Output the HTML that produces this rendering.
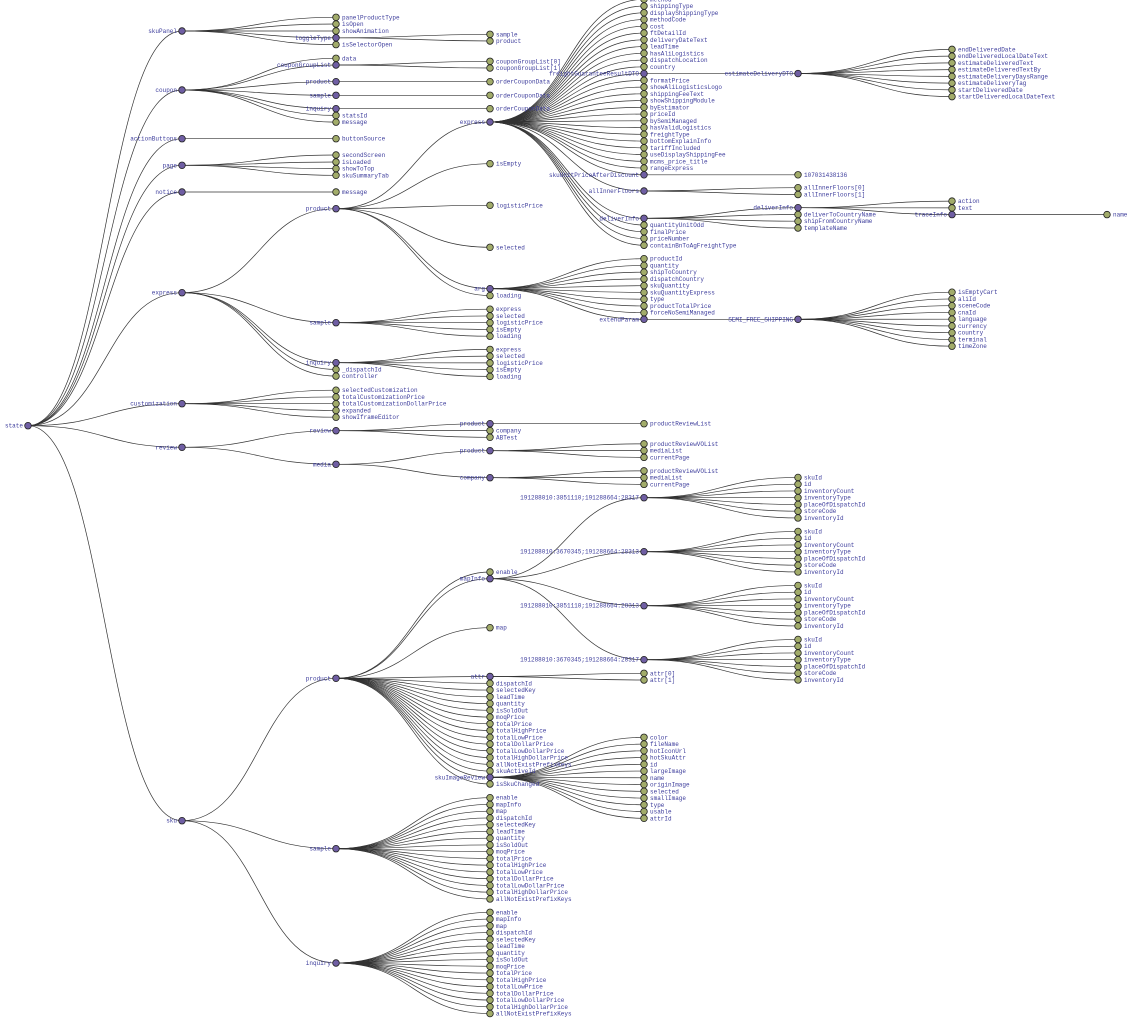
<!DOCTYPE html>
<html><head><meta charset="utf-8"><style>
html,body{margin:0;padding:0;background:#fff;width:1132px;height:1031px;overflow:hidden}
svg text{font-family:"Liberation Mono",monospace;font-size:6px;fill:#3b3b9b}
</style></head><body>
<svg id="s" width="1132" height="1031" xmlns="http://www.w3.org/2000/svg"></svg>
<script>
const X=[28,182,336,490,644,798,952,1107];
const U=6.75;
function N(name,y,ch){return {n:name,y:y,c:ch||[]};}
function L(y0,names){return names.map((n,i)=>N(n,y0+i*U));}
function C(y,names){const y0=y-(names.length-1)/2*U;return L(y0,names);}
const inv=['skuId','id','inventoryCount','inventoryType','placeOfDispatchId','storeCode','inventoryId'];
const skuF=['enable','mapInfo','map','dispatchId','selectedKey','leadTime','quantity','isSoldOut','moqPrice','totalPrice','totalHighPrice','totalLowPrice','totalDollarPrice','totalLowDollarPrice','totalHighDollarPrice','allNotExistPrefixKeys'];
const expA=['method','shippingType','displayShippingType','methodCode','cost','ftDetailId','deliveryDateText','leadTime','hasAliLogistics','dispatchLocation','country'];
const expB=['formatPrice','showAliLogisticsLogo','shippingFeeText','showShippingModule','byEstimator','priceId','bySemiManaged','hasValidLogistics','freightType','bottomExplainInfo','tariffIncluded','useDisplayShippingFee','mcms_price_title','rangeExpress'];
const y0e=-0.7;
const expressCh=[...L(y0e,expA),
 N('freightGuaranteeResultDTO',y0e+11*U,[N('estimateDeliveryDTO',y0e+11*U,C(73,['endDeliveredDate','endDeliveredLocalDateText','estimateDeliveredText','estimateDeliveredTextBy','estimateDeliveryDaysRange','estimateDeliveryTag','startDeliveredDate','startDeliveredLocalDateText']))]),
 ...L(y0e+12*U,expB),
 N('skuUnitPriceAfterDiscount',y0e+26*U,[N('107031438136',y0e+26*U)]),
 N('allInnerFloors',191,[N('allInnerFloors[0]',187.7),N('allInnerFloors[1]',194.5)]),
 N('deliverInfo',218.3,[N('deliverInfo',207.7,[N('action',201.1),N('text',207.9),N('traceInfo',214.6,[N('name',214.6)])]),N('deliverToCountryName',214.5),N('shipFromCountryName',221.2),N('templateName',228)]),
 ...L(225,['quantityUnitOdd','finalPrice','priceNumber','containBnToAgFreightType'])];
const tree=N('state',425.7,[
 N('skuPanel',31,[N('panelProductType',17.3),N('isOpen',24),N('showAnimation',31),N('toggleType',37.8,[N('sample',34.3),N('product',41)]),N('isSelectorOpen',44.6)]),
 N('coupon',90,[N('data',58.3),N('couponGroupList',65,[N('couponGroupList[0]',61.3),N('couponGroupList[1]',68)]),N('product',81.7,[N('orderCouponData',81.7)]),N('sample',95.3,[N('orderCouponData',95.3)]),N('inquiry',108.7,[N('orderCouponData',108.7)]),N('statsId',115.4),N('message',122.1)]),
 N('actionButtons',138.7,[N('buttonSource',138.7)]),
 N('page',165.3,[N('secondScreen',155),N('isLoaded',162),N('showToTop',168.6),N('skuSummaryTab',175.3)]),
 N('notice',192,[N('message',192)]),
 N('express',292.7,[
  N('product',208.7,[N('express',122,expressCh),N('isEmpty',163.7),N('logisticPrice',205.3),N('selected',247.3),
   N('arg',288.7,[...L(258.7,['productId','quantity','shipToCountry','dispatchCountry','skuQuantity','skuQuantityExpress','type','productTotalPrice','forceNoSemiManaged']),
     N('extendParam',319.3,[N('SEMI_FREE_SHIPPING',319.3,C(319.2,['isEmptyCart','aliId','sceneCode','cnaId','language','currency','country','terminal','timeZone']))])]),
   N('loading',295.6)]),
  N('sample',322.7,C(322.7,['express','selected','logisticPrice','isEmpty','loading'])),
  N('inquiry',362.7,C(362.9,['express','selected','logisticPrice','isEmpty','loading'])),
  N('_dispatchId',369.4),N('controller',376.1)]),
 N('customization',403.7,C(403.7,['selectedCustomization','totalCustomizationPrice','totalCustomizationDollarPrice','expanded','showIframeEditor'])),
 N('review',447.3,[
  N('review',430.7,[N('product',423.7,[N('productReviewList',423.7)]),N('company',430.6),N('ABTest',437.3)]),
  N('media',464.3,[N('product',450.7,C(450.6,['productReviewVOList','mediaList','currentPage'])),N('company',477.7,C(477.6,['productReviewVOList','mediaList','currentPage']))])]),
 N('sku',820.7,[
  N('product',678.3,[N('enable',572),
   N('mapInfo',578.7,[N('191288010:3851110;191288664:28317',497.7,C(497.7,inv)),N('191288010:3670345;191288664:28313',551.7,C(551.7,inv)),N('191288010:3851110;191288664:28313',605.7,C(605.7,inv)),N('191288010:3670345;191288664:28317',659.7,C(659.7,inv))]),
   N('map',627.7),
   N('attr',676.5,[N('attr[0]',673.3),N('attr[1]',680)]),
   ...L(683.3,['dispatchId','selectedKey','leadTime','quantity','isSoldOut','moqPrice','totalPrice','totalHighPrice','totalLowPrice','totalDollarPrice','totalLowDollarPrice','totalHighDollarPrice','allNotExistPrefixKeys','skuActiveId']),
   N('skuImageReview',777.3,L(737.3,['color','fileName','hotIconUrl','hotSkuAttr','id','largeImage','name','originImage','selected','smallImage','type','usable','attrId'])),
   N('isSkuChanged',784)]),
  N('sample',848.7,L(797.7,skuF)),
  N('inquiry',963,L(912.3,skuF))])
]);
let links='',nodes='',texts='';
function walk(nd,d){
 const x=X[d];
 nd.c.forEach(ch=>{const tx=X[d+1],mx=(x+tx)/2;
  links+=`<path d="M${x},${nd.y}C${mx},${nd.y} ${mx},${ch.y} ${tx},${ch.y}"/>`;walk(ch,d+1);});
 const leaf=nd.c.length===0;
 nodes+=`<circle cx="${x}" cy="${nd.y}" r="3.3" fill="${leaf?'#a2ac6a':'#6f5ea3'}"/>`;
 texts+= leaf?`<text x="${x+6}" y="${nd.y+2}">${nd.n}</text>`:`<text x="${x-5}" y="${nd.y+2}" text-anchor="end">${nd.n}</text>`;
}
walk(tree,0);
document.getElementById('s').innerHTML=`<g fill="none" stroke="#333" stroke-width="0.7">${links}</g><g stroke="#222" stroke-width="0.8">${nodes}</g><g>${texts}</g>`;
</script>
</body></html>
